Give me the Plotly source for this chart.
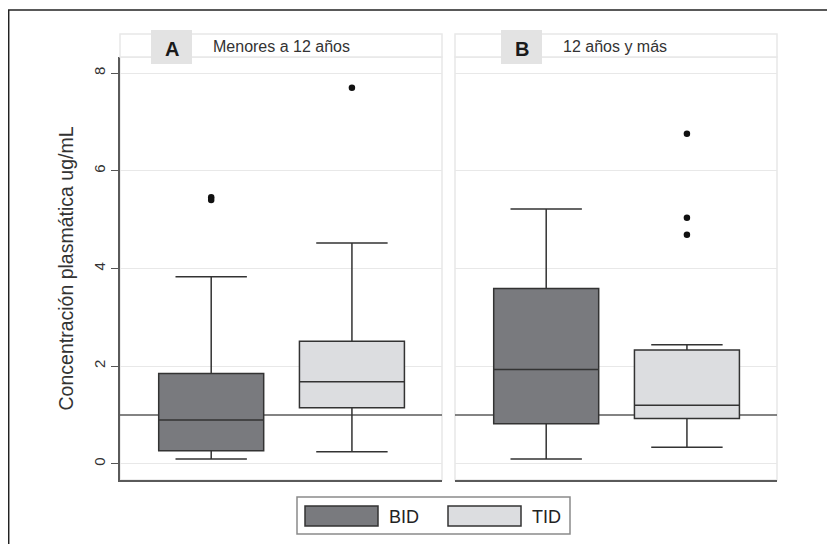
import plotly.graph_objects as go

# ---- data ----
panels = ["Menores a 12 años", "12 años y más"]
panel_letters = ["A", "B"]
treatments = ["BID", "TID"]

bid_lower = [0.10, 0.10]
bid_q1 = [0.27, 0.82]
bid_median = [0.90, 1.93]
bid_q3 = [1.85, 3.59]
bid_upper = [3.83, 5.22]

tid_lower = [0.25, 0.34]
tid_q1 = [1.15, 0.93]
tid_median = [1.68, 1.20]
tid_q3 = [2.51, 2.33]
tid_upper = [4.52, 2.44]

bid_outliers = [[5.46, 5.40], []]
tid_outliers = [[7.70], [6.76, 5.04, 4.69]]

reference_level = 1.0
y_ticks = [0, 2, 4, 6, 8]

# ---- style ----
OFF = 8  # page body margin
W, H = 835 - OFF, 544 - OFF
FONT = "Liberation Sans, Arial, sans-serif"
BID_FILL = "#797a7e"
TID_FILL = "#dcdde0"
LINE = "#333333"
FAINT = "#e8e8e8"

def px_x(p):
    return (p - OFF) / W

def px_y(p):
    return 1 - (p - OFF) / H

panel_px = [(120, 442), (455, 777)]
plot_top, plot_bottom = 57, 480
strip_top = 34

fig = go.Figure()

fills = {"BID": BID_FILL, "TID": TID_FILL}
stats = {
    "BID": (bid_lower, bid_q1, bid_median, bid_q3, bid_upper, bid_outliers),
    "TID": (tid_lower, tid_q1, tid_median, tid_q3, tid_upper, tid_outliers),
}

for i in range(2):
    xa = "x" if i == 0 else "x2"
    ya = "y" if i == 0 else "y2"
    for t in treatments:
        lo, q1, med, q3, up, outs = stats[t]
        fig.add_trace(go.Box(
            x=[t], q1=[q1[i]], median=[med[i]], q3=[q3[i]],
            lowerfence=[lo[i]], upperfence=[up[i]],
            width=0.746, whiskerwidth=0.68,
            fillcolor=fills[t], line=dict(color=LINE, width=1.5),
            boxpoints=False, name=t, showlegend=False,
            xaxis=xa, yaxis=ya, hoverinfo="skip",
        ))
        if outs[i]:
            fig.add_trace(go.Scatter(
                x=[t] * len(outs[i]), y=outs[i], mode="markers",
                marker=dict(color="#111111", size=6.5),
                showlegend=False, xaxis=xa, yaxis=ya, hoverinfo="skip",
            ))

yrange = [-0.33, 8.33]
xcommon = dict(type="category", categoryorder="array", categoryarray=treatments,
               range=[-0.648, 1.64], showticklabels=False, ticks="",
               showgrid=False, zeroline=False, showline=True,
               linecolor="#5a5a5a", linewidth=1.5, fixedrange=True)
ycommon = dict(range=yrange, tickvals=y_ticks, showgrid=True, gridcolor=FAINT,
               gridwidth=1, zeroline=False, fixedrange=True)

fig.update_layout(
    width=W, height=H,
    margin=dict(l=0, r=0, t=0, b=0),
    paper_bgcolor="white", plot_bgcolor="white",
    font=dict(family=FONT, color="#333333"),
    showlegend=False,
    xaxis=dict(domain=[px_x(panel_px[0][0]), px_x(panel_px[0][1])], anchor="y", **xcommon),
    xaxis2=dict(domain=[px_x(panel_px[1][0]), px_x(panel_px[1][1])], anchor="y2", **xcommon),
    yaxis=dict(domain=[px_y(plot_bottom), px_y(plot_top)], anchor="x",
               showline=True, linecolor="#5a5a5a", linewidth=1.5,
               ticks="outside", ticklen=7, tickcolor="#555555", tickwidth=1.2,
               tickangle=-90, tickfont=dict(size=15, color="#333333"),
               title=dict(text="Concentración plasmática ug/mL",
                          font=dict(size=19.5, color="#333333"), standoff=12),
               **ycommon),
    yaxis2=dict(domain=[px_y(plot_bottom), px_y(plot_top)], anchor="x2",
                showline=False, showticklabels=False, ticks="", matches="y",
                **ycommon),
)

shapes = []
annotations = []

# outer frame (top and left)
shapes.append(dict(type="line", xref="paper", yref="paper",
                   x0=px_x(8), x1=1, y0=px_y(10), y1=px_y(10),
                   line=dict(color="#222222", width=1.5)))
shapes.append(dict(type="line", xref="paper", yref="paper",
                   x0=px_x(8.7), x1=px_x(8.7), y0=px_y(10), y1=0,
                   line=dict(color="#222222", width=1.5)))

for i in range(2):
    xd = "x domain" if i == 0 else "x2 domain"
    yd = "y domain" if i == 0 else "y2 domain"
    yr = "y" if i == 0 else "y2"
    x0, x1 = panel_px[i]
    # faint plot border
    shapes.append(dict(type="rect", xref=xd, yref=yd, x0=0, x1=1, y0=0, y1=1,
                       line=dict(color=FAINT, width=1.5), layer="below"))
    # reference line
    shapes.append(dict(type="line", xref=xd, yref=yr, x0=0, x1=1,
                       y0=reference_level, y1=reference_level,
                       line=dict(color="#5a5a5a", width=1.5), layer="below"))
    # strip
    shapes.append(dict(type="rect", xref="paper", yref="paper",
                       x0=px_x(x0), x1=px_x(x1), y0=px_y(plot_top), y1=px_y(strip_top),
                       line=dict(color=FAINT, width=1.5), fillcolor="white"))
    # letter box
    lx0 = x0 + 31 if i == 0 else x0 + 46
    shapes.append(dict(type="rect", xref="paper", yref="paper",
                       x0=px_x(lx0), x1=px_x(lx0 + 41), y0=px_y(64), y1=px_y(30),
                       line=dict(width=0), fillcolor="#e3e3e3"))
    annotations.append(dict(xref="paper", yref="paper", x=px_x(lx0 + 20.5), y=px_y(49),
                            text=f"<b>{panel_letters[i]}</b>", showarrow=False,
                            font=dict(size=20, color="#1a1a1a", family=FONT),
                            xanchor="center", yanchor="middle"))
    annotations.append(dict(xref="paper", yref="paper", x=px_x(lx0 + 60), y=px_y(46),
                            text=panels[i], showarrow=False,
                            font=dict(size=16, color="#333333", family=FONT),
                            xanchor="left", yanchor="middle"))

# legend (drawn manually to match size)
shapes.append(dict(type="rect", xref="paper", yref="paper",
                   x0=px_x(297), x1=px_x(570), y0=px_y(534), y1=px_y(497),
                   line=dict(color="#8a8a8a", width=1.5), fillcolor="white"))
for t, sx in zip(treatments, [305, 448]):
    shapes.append(dict(type="rect", xref="paper", yref="paper",
                       x0=px_x(sx), x1=px_x(sx + 73), y0=px_y(526), y1=px_y(506),
                       line=dict(color=LINE, width=1.5), fillcolor=fills[t]))
    annotations.append(dict(xref="paper", yref="paper", x=px_x(sx + 82), y=px_y(517),
                            text=t, showarrow=False,
                            font=dict(size=18, color="#222222", family=FONT),
                            xanchor="left", yanchor="middle"))

fig.update_layout(shapes=shapes, annotations=annotations)
fig.write_html("out.html")
